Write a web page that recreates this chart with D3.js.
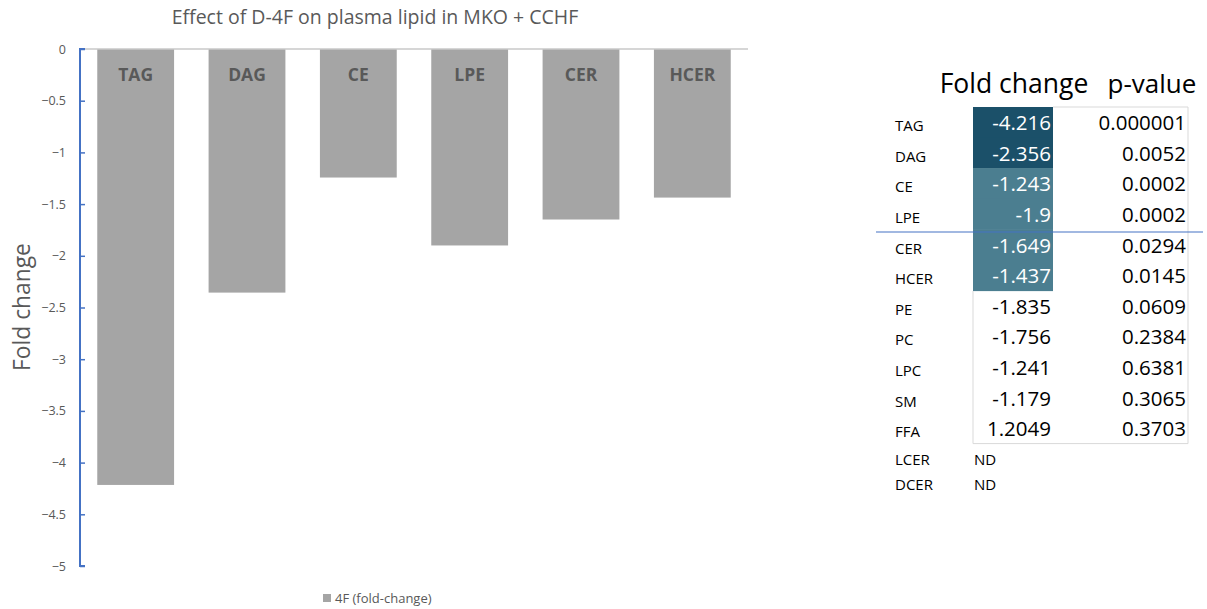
<!DOCTYPE html>
<html>
<head>
<meta charset="utf-8">
<script src="https://cdn.jsdelivr.net/npm/d3@7"></script>
<style>
  html, body { margin: 0; padding: 0; background: #fff; }
  svg { display: block; font-family: "Open Sans", "Noto Sans", sans-serif; }
</style>
</head>
<body>
<svg id="chart" width="1207" height="609"></svg>
<script>
// Bar chart series: fold change of lipid classes after D-4F
const barLipids = ["TAG", "DAG", "CE", "LPE", "CER", "HCER"];
const barFold = [-4.216, -2.356, -1.243, -1.9, -1.649, -1.437];
const yTicks = [0, -0.5, -1, -1.5, -2, -2.5, -3, -3.5, -4, -4.5, -5];

// Summary table
const tableLipids = ["TAG", "DAG", "CE", "LPE", "CER", "HCER", "PE", "PC", "LPC", "SM", "FFA"];
const tableFold = ["-4.216", "-2.356", "-1.243", "-1.9", "-1.649", "-1.437", "-1.835", "-1.756", "-1.241", "-1.179", "1.2049"];
const tablePValue = ["0.000001", "0.0052", "0.0002", "0.0002", "0.0294", "0.0145", "0.0609", "0.2384", "0.6381", "0.3065", "0.3703"];
const notDetected = ["LCER", "DCER"];

const svg = d3.select("#chart");
const grey = "#595959";

// ---- Bar chart ----
const plot = { left: 80, right: 748, top: 49, bottom: 566 };
const x = d3.scaleBand().domain(barLipids).range([plot.left, plot.right]).paddingInner(0.31).paddingOuter(0.155);
const y = d3.scaleLinear().domain([0, -5]).range([plot.top, plot.bottom]);

svg.append("text")
  .attr("x", 375).attr("y", 24)
  .attr("text-anchor", "middle")
  .attr("font-size", 19.5).attr("fill", grey)
  .text("Effect of D-4F on plasma lipid in MKO + CCHF");

svg.append("g").selectAll("rect").data(barLipids).join("rect")
  .attr("x", d => x(d))
  .attr("y", y(0))
  .attr("width", x.bandwidth())
  .attr("height", (d, i) => y(barFold[i]) - y(0))
  .attr("fill", "#a5a5a5");

svg.append("g").selectAll("text").data(barLipids).join("text")
  .attr("x", d => x(d) + x.bandwidth() / 2)
  .attr("y", 81)
  .attr("text-anchor", "middle")
  .attr("font-size", 17.5).attr("font-weight", "bold").attr("fill", grey)
  .text(d => d);

// zero line
svg.append("line")
  .attr("x1", plot.left).attr("x2", plot.right)
  .attr("y1", y(0)).attr("y2", y(0))
  .attr("stroke", "#c8c8c8").attr("stroke-width", 1.5);

// y axis
const yAxis = svg.append("g")
  .attr("transform", `translate(${plot.left},0)`)
  .call(d3.axisRight(y).tickValues(yTicks).tickSize(5).tickFormat(d3.format("")));
yAxis.select(".domain").attr("stroke", "#4472c4").attr("stroke-width", 2).attr("d", `M5,${plot.top}H0V${plot.bottom}H5`);
yAxis.selectAll(".tick line").attr("stroke", "#4472c4").attr("stroke-width", 1.5);
yAxis.selectAll(".tick text")
  .attr("x", -14).attr("text-anchor", "end")
  .attr("fill", grey).attr("font-size", 12.5)
  .attr("font-family", "'Open Sans', sans-serif");

svg.append("text")
  .attr("transform", "translate(30,307) rotate(-90)")
  .attr("text-anchor", "middle")
  .attr("font-size", 22.8).attr("fill", grey)
  .text("Fold change");

// legend
svg.append("rect").attr("x", 323).attr("y", 594).attr("width", 8).attr("height", 8).attr("fill", "#a5a5a5");
svg.append("text").attr("x", 335).attr("y", 603).attr("font-size", 13).attr("fill", grey).text("4F (fold-change)");

// ---- Table ----
const cols = { label: 895, foldLeft: 973, foldRight: 1053, pRight: 1188 };
const rowY = d3.scaleBand().domain(d3.range(tableLipids.length)).range([107, 443.6]);

svg.append("text").attr("x", 1014).attr("y", 93).attr("text-anchor", "middle")
  .attr("font-size", 26.5).attr("fill", "#000").text("Fold change");
svg.append("text").attr("x", 1152).attr("y", 93).attr("text-anchor", "middle")
  .attr("font-size", 26).attr("fill", "#000").text("p-value");

// highlight: |fold change| > 2 dark, significant (p < 0.05) light
const tier = i => Math.abs(+tableFold[i]) > 2 ? "dark" : (+tablePValue[i] < 0.05 ? "light" : "none");
const tierFill = { dark: "#1b5069", light: "#4b7e90" };

const rows = svg.append("g").selectAll("g").data(tableLipids).join("g")
  .attr("transform", (d, i) => `translate(0,${rowY(i)})`);

rows.filter((d, i) => tier(i) !== "none").append("rect")
  .attr("x", cols.foldLeft).attr("y", 0)
  .attr("width", cols.foldRight - cols.foldLeft).attr("height", rowY.bandwidth() + 0.5)
  .attr("fill", d => tierFill[tier(tableLipids.indexOf(d))]);

const base = rowY.bandwidth() / 2 + 8;
rows.append("text").attr("x", cols.label).attr("y", base + 1)
  .attr("font-size", 15).attr("fill", "#000").text(d => d);
rows.append("text").attr("x", cols.foldRight - 2).attr("y", base)
  .attr("text-anchor", "end").attr("font-size", 20.5)
  .attr("fill", (d, i) => tier(i) === "none" ? "#000" : "#fff")
  .text((d, i) => tableFold[i]);
rows.append("text").attr("x", cols.pRight - 2).attr("y", base)
  .attr("text-anchor", "end").attr("font-size", 20.5).attr("fill", "#000")
  .text((d, i) => tablePValue[i]);

// table borders
const border = "#d9d9d9";
svg.append("path")
  .attr("d", `M${cols.foldRight},107H${cols.pRight}V443.6H${cols.foldLeft}V291`)
  .attr("fill", "none").attr("stroke", border).attr("stroke-width", 1);

// not detected
svg.append("g").selectAll("g").data(notDetected).join("g")
  .attr("transform", (d, i) => `translate(0,${459 + i * 25})`)
  .call(g => {
    g.append("text").attr("x", cols.label).attr("y", 6).attr("font-size", 15).text(d => d);
    g.append("text").attr("x", 974).attr("y", 6).attr("font-size", 15).text("ND");
  });

// separator line
svg.append("line").attr("x1", 876).attr("x2", 1203).attr("y1", 232).attr("y2", 232)
  .attr("stroke", "#4472c4").attr("stroke-width", 1.2);
</script>
</body>
</html>
